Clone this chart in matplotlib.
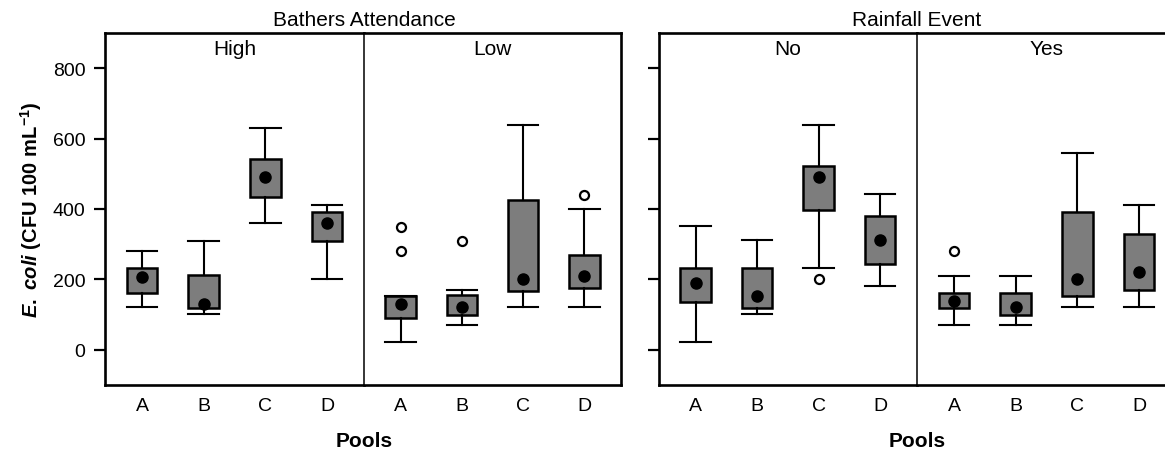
import matplotlib
matplotlib.use("Agg")
import matplotlib.pyplot as plt

plt.rcParams['font.family'] = ['Liberation Sans', 'DejaVu Sans']
plt.rcParams['mathtext.fontset'] = 'custom'
plt.rcParams['mathtext.it'] = 'Liberation Sans:italic:bold'
plt.rcParams['mathtext.bf'] = 'Liberation Sans:bold'
plt.rcParams['mathtext.rm'] = 'Liberation Sans:bold'

pools = ['A', 'B', 'C', 'D']
yticks = [0, 200, 400, 600, 800]

# Bathers attendance: High
high_lo = [122, 102, 360, 200]
high_q1 = [160, 120, 433, 309]
high_dot = [206, 131, 490, 360]
high_q3 = [232, 212, 541, 392]
high_hi = [280, 310, 630, 410]
high_out = [[], [], [], []]

# Bathers attendance: Low
low_lo = [22, 71, 121, 121]
low_q1 = [90, 100, 166, 176]
low_dot = [131, 121, 202, 210]
low_q3 = [152, 157, 425, 270]
low_hi = [152, 170, 640, 400]
low_out = [[280, 350], [310], [], [440]]

# Rainfall event: No
no_lo = [22, 102, 231, 181]
no_q1 = [136, 119, 397, 245]
no_dot = [191, 152, 490, 313]
no_q3 = [233, 233, 523, 380]
no_hi = [351, 311, 640, 442]
no_out = [[], [], [200], []]

# Rainfall event: Yes
yes_lo = [71, 71, 121, 121]
yes_q1 = [120, 100, 152, 169]
yes_dot = [140, 121, 200, 221]
yes_q3 = [161, 161, 392, 330]
yes_hi = [210, 210, 560, 411]
yes_out = [[280], [], [], []]

W, H = 1165, 452
fig = plt.figure(figsize=(W / 100, H / 100), dpi=100)


def make_ax(x0, x1):
    return fig.add_axes([x0 / W, (H - 386) / H, (x1 - x0) / W, 352 / H])


def draw(ax, lo, q1, dot, q3, hi, out, label):
    stats = []
    for i in range(4):
        stats.append(dict(whislo=lo[i], q1=q1[i], med=dot[i], q3=q3[i],
                          whishi=hi[i], mean=dot[i], fliers=out[i]))
    ax.bxp(stats, positions=[1, 2, 3, 4], widths=0.5, capwidths=0.5,
           patch_artist=True, showmeans=True,
           boxprops=dict(facecolor='#7d7d7d', edgecolor='black', linewidth=1.8),
           whiskerprops=dict(color='black', linewidth=1.5),
           capprops=dict(color='black', linewidth=1.5),
           medianprops=dict(linewidth=0),
           meanprops=dict(marker='o', markerfacecolor='black',
                          markeredgecolor='black', markersize=8),
           flierprops=dict(marker='o', markerfacecolor='white',
                           markeredgecolor='black', markersize=6.5,
                           markeredgewidth=1.6))
    ax.set_xlim(0.4, 4.6)
    ax.set_ylim(-100, 900)
    ax.set_xticks([1, 2, 3, 4])
    ax.set_xticklabels(pools)
    ax.tick_params(axis='x', length=0, pad=9, labelsize=14)
    ax.text(0.5, 0.955, label, transform=ax.transAxes, ha='center',
            va='center', fontsize=15)
    for s in ax.spines.values():
        s.set_linewidth(1.9)


ax1 = make_ax(105, 364)
ax2 = make_ax(364, 621)
ax3 = make_ax(658.7, 917)
ax4 = make_ax(917, 1176)

draw(ax1, high_lo, high_q1, high_dot, high_q3, high_hi, high_out, 'High')
draw(ax2, low_lo, low_q1, low_dot, low_q3, low_hi, low_out, 'Low')
draw(ax3, no_lo, no_q1, no_dot, no_q3, no_hi, no_out, 'No')
draw(ax4, yes_lo, yes_q1, yes_dot, yes_q3, yes_hi, yes_out, 'Yes')

for ax in (ax1, ax3):
    ax.set_yticks(yticks)
    ax.tick_params(axis='y', length=8, width=1.6, pad=6, labelsize=14)
    ax.spines['right'].set_visible(False)
for ax in (ax2, ax4):
    ax.set_yticks([])
    ax.spines['left'].set_linewidth(1.1)
ax3.set_yticklabels([])

ax1.set_ylabel(r"$\mathit{E.\ coli}$ (CFU 100 mL$^{\mathbf{-1}}$)",
               fontsize=14.5, fontweight='bold', labelpad=6)

fig.text(364 / W, 1 - 20 / H, 'Bathers Attendance', ha='center', va='center', fontsize=15)
fig.text(917 / W, 1 - 20 / H, 'Rainfall Event', ha='center', va='center', fontsize=15)
fig.text(364 / W, 1 - 442 / H, 'Pools', ha='center', va='center', fontsize=15, fontweight='bold')
fig.text(917 / W, 1 - 442 / H, 'Pools', ha='center', va='center', fontsize=15, fontweight='bold')

fig.savefig('out.png', dpi=100)
